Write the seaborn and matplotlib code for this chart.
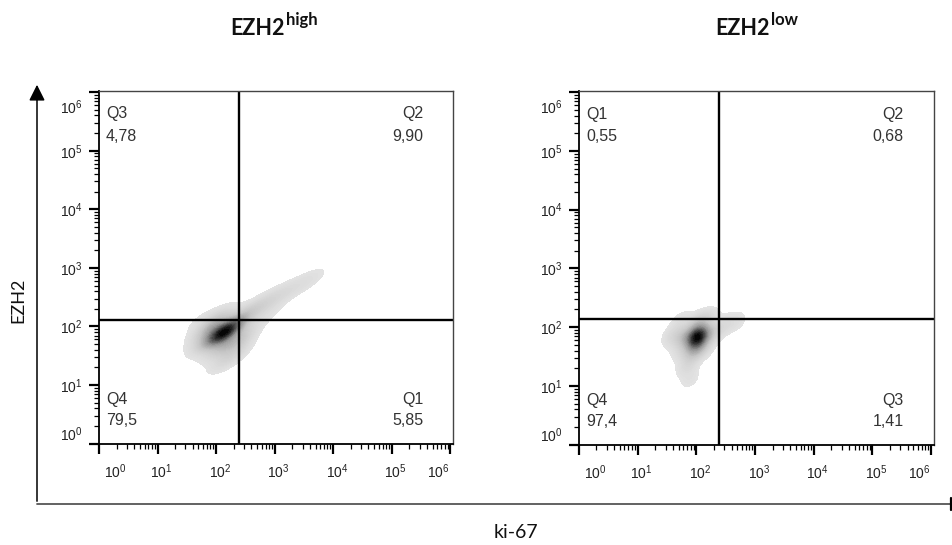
import numpy as np
import pandas as pd
import matplotlib
matplotlib.use("Agg")
import matplotlib.pyplot as plt
import seaborn as sns
from matplotlib.colors import LinearSegmentedColormap
from matplotlib.lines import Line2D
from matplotlib.patches import FancyArrowPatch
from matplotlib.ticker import LogLocator, NullFormatter
from matplotlib.transforms import ScaledTranslation

# ---------------- data ----------------
title_main = ["EZH2", "EZH2"]
title_sup = ["high", "low"]

# representative event positions (ki-67, EZH2 intensities) with weights
high_ki67 = [141, 89, 224, 89, 178, 126, 71, 112, 200, 141, 63, 56,
             316, 562, 1000, 1778, 3162, 5012, 398, 794]
high_ezh2 = [79, 100, 56, 63, 100, 45, 79, 141, 35, 25, 50, 126,
             158, 224, 316, 417, 562, 708, 100, 178]
high_w = [26, 7, 7, 6, 6, 7, 4, 4, 4, 2.5, 2, 1.5,
          5, 3.5, 2.5, 2, 1.5, 1, 2, 1.5]

low_ki67 = [105, 63, 178, 105, 89, 71, 79, 126, 40, 316, 501, 158, 56, 56]
low_ezh2 = [68, 68, 79, 112, 40, 22, 13, 45, 71, 112, 126, 141, 126, 40]
low_w = [26, 7, 6, 6, 7, 3, 1.5, 5, 3, 2.5, 1.5, 3, 2, 2]

# quadrant gates (ki-67, EZH2)
gate_x = [245, 245]
gate_y = [130, 138]

# quadrant names and percentages: [upper-left, upper-right, lower-left, lower-right]
quad_names = [["Q3", "Q2", "Q4", "Q1"], ["Q1", "Q2", "Q4", "Q3"]]
quad_values = [["4,78", "9,90", "79,5", "5,85"], ["0,55", "0,68", "97,4", "1,41"]]

decades = [0, 1, 2, 3, 4, 5, 6]
tick_labels = [r"$10^{%d}$" % d for d in decades]

x_label = "ki-67"
y_label = "EZH2"

# ---------------- style ----------------
sns.set_theme(style="white")
plt.rcParams['font.family'] = ['Liberation Sans', 'DejaVu Sans']
plt.rcParams['mathtext.fontset'] = 'custom'
plt.rcParams['mathtext.rm'] = 'Liberation Sans'
plt.rcParams['mathtext.it'] = 'Liberation Sans'
plt.rcParams['mathtext.bf'] = 'Liberation Sans:bold'

cmap = LinearSegmentedColormap.from_list(
    "flow", ["#e3e3e3", "#c6c6c6", "#969696", "#4a4a4a", "#000000"])

fig = plt.figure(figsize=(9.52, 5.45), dpi=100)

panels = [
    (pd.DataFrame({"ki67": high_ki67, "ezh2": high_ezh2, "w": high_w}), [0.104, 0.185, 0.372, 0.648]),
    (pd.DataFrame({"ki67": low_ki67, "ezh2": low_ezh2, "w": low_w}), [0.608, 0.183, 0.373, 0.650]),
]

px = 1 / 100.0  # one pixel in inches

for i, (df, rect) in enumerate(panels):
    ax = fig.add_axes(rect)
    sns.kdeplot(data=df, x="ki67", y="ezh2", weights="w", fill=True,
                levels=40, thresh=0.04, cmap=cmap, log_scale=True,
                bw_adjust=0.75, ax=ax)
    ax.set_xlim(1, 10 ** 6.05)
    ax.set_ylim(10 ** -0.01, 10 ** 6.02)
    ax.set_xlabel("")
    ax.set_ylabel("")

    ax.axvline(gate_x[i], color="black", lw=1.7)
    ax.axhline(gate_y[i], color="black", lw=1.7)

    # ticks
    ax.set_xticks([10 ** d for d in decades], labels=tick_labels)
    ax.set_yticks([10 ** d for d in decades], labels=tick_labels)
    for a in (ax.xaxis, ax.yaxis):
        a.set_minor_locator(LogLocator(base=10, subs=np.arange(2, 10), numticks=100))
        a.set_minor_formatter(NullFormatter())
    ax.tick_params(which="major", direction="out", length=7, width=1.6,
                   color="black", labelsize=10, labelcolor="#222222",
                   bottom=True, left=True)
    ax.tick_params(axis="x", which="major", pad=6)
    ax.tick_params(axis="y", which="major", pad=5)
    ax.tick_params(which="minor", direction="out", length=3.5, width=0.9,
                   color="black", bottom=True, left=True)
    xl = ax.get_xticklabels()
    for k, lab in enumerate(xl):
        if k == 0:
            dx = 16
        elif k == len(xl) - 1:
            dx = -12
        else:
            dx = 4
        lab.set_transform(lab.get_transform() + ScaledTranslation(dx * px, 0, fig.dpi_scale_trans))
    yl = ax.get_yticklabels()
    yl[0].set_va("bottom")
    yl[-1].set_va("top")
    yl[-1].set_transform(yl[-1].get_transform() + ScaledTranslation(0, -6 * px, fig.dpi_scale_trans))

    for side in ("top", "right"):
        ax.spines[side].set_color("#444444")
        ax.spines[side].set_linewidth(1.0)
    for side in ("left", "bottom"):
        ax.spines[side].set_color("black")
        ax.spines[side].set_linewidth(1.3)

    # quadrant annotations
    names = quad_names[i]
    vals = quad_values[i]
    tk = dict(transform=ax.transAxes, fontsize=11.5, color="#333333")
    ax.text(0.02, 0.935, names[0], ha="left", va="center", **tk)
    ax.text(0.02, 0.872, vals[0], ha="left", va="center", **tk)
    ax.text(0.915, 0.935, names[1], ha="right", va="center", **tk)
    ax.text(0.915, 0.872, vals[1], ha="right", va="center", **tk)
    ax.text(0.02, 0.127, names[2], ha="left", va="center", **tk)
    ax.text(0.02, 0.068, vals[2], ha="left", va="center", **tk)
    ax.text(0.915, 0.127, names[3], ha="right", va="center", **tk)
    ax.text(0.915, 0.068, vals[3], ha="right", va="center", **tk)

# titles (main text + raised superscript)
title_font = ["Lato", "DejaVu Sans"]
for xr, main, sup in zip([285, 770], title_main, title_sup):
    fig.text(xr / 952, 1 - 35 / 545, main, ha="right", va="baseline",
             fontsize=15.5, fontweight="bold", family=title_font, color="#111111")
    fig.text((xr + 1) / 952, 1 - 25 / 545, sup, ha="left", va="baseline",
             fontsize=12, fontweight="bold", family=title_font, color="#111111")

# outer axis frame with arrow
x0, y0 = 37 / 952, 1 - 504 / 545
arrow = FancyArrowPatch((x0, y0), (x0, 1 - 82 / 545), transform=fig.transFigure,
                        arrowstyle="-|>,head_length=6,head_width=3",
                        mutation_scale=1.6, color="black", lw=1.1)
fig.add_artist(arrow)
fig.add_artist(Line2D([x0, 951 / 952], [y0, y0], transform=fig.transFigure,
                      color="#555555", lw=1.3))
fig.add_artist(Line2D([950.5 / 952, 950.5 / 952], [1 - 498 / 545, 1 - 510 / 545],
                      transform=fig.transFigure, color="black", lw=1.6))

fig.text(18 / 952, 1 - 300 / 545, y_label, rotation=90, ha="center", va="center",
         fontsize=13, family=title_font, color="#111111")
fig.text(516 / 952, 1 - 532 / 545, x_label, ha="center", va="center",
         fontsize=14, family=title_font, color="#111111")

fig.savefig("out.png", dpi=100)
